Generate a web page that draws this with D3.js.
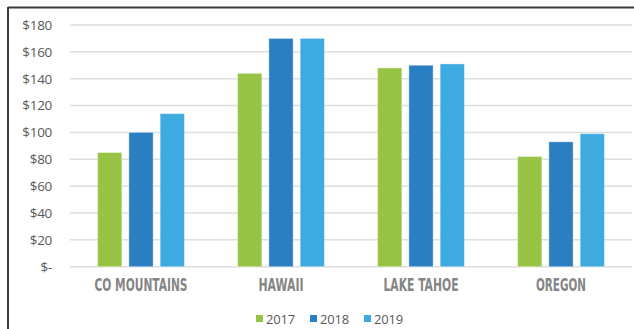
<!DOCTYPE html>
<html>
<head>
<meta charset="utf-8">
<script src="https://cdn.jsdelivr.net/npm/d3@7"></script>
<style>
  html, body { margin: 0; padding: 0; background: #fff; }
  svg { display: block; }
</style>
</head>
<body>
<svg id="chart" width="634" height="329"></svg>
<script>
// Average nightly price by destination, three years
const categories = ["CO MOUNTAINS", "HAWAII", "LAKE TAHOE", "OREGON"];
const years = ["2017", "2018", "2019"];
const values2017 = [85, 144, 148, 82];
const values2018 = [100, 170, 150, 93];
const values2019 = [114, 170, 151, 99];
const yTicks = [0, 20, 40, 60, 80, 100, 120, 140, 160, 180];
const colors = ["#97c444", "#2a7ec2", "#3daae0"];

const seriesValues = [values2017, values2018, values2019];
const rows = categories.map((c, i) => ({
  category: c,
  vals: years.map((y, j) => ({ year: y, value: seriesValues[j][i], color: colors[j] }))
}));

const svg = d3.select("#chart");
const plot = { left: 71, right: 631, top: 25, bottom: 266.7 };

const x0 = d3.scaleBand().domain(categories)
  .range([plot.left, plot.right]).paddingInner(0.38).paddingOuter(0.19);
const x1 = d3.scaleBand().domain(years)
  .range([0, x0.bandwidth()]).paddingInner(0.226).paddingOuter(0);
const y = d3.scaleLinear().domain([0, 180]).range([plot.bottom, plot.top]);

// frame lines (top and left)
svg.append("line").attr("x1", 8).attr("x2", 634).attr("y1", 7.5).attr("y2", 7.5)
  .attr("stroke", "#3a3a3a").attr("stroke-width", 2);
svg.append("line").attr("x1", 8).attr("x2", 8).attr("y1", 7).attr("y2", 329)
  .attr("stroke", "#3a3a3a").attr("stroke-width", 2);

// gridlines
svg.append("g").selectAll("line").data(yTicks).join("line")
  .attr("x1", plot.left - 1).attr("x2", plot.right + 1)
  .attr("y1", d => y(d)).attr("y2", d => y(d))
  .attr("stroke", "#dedede").attr("stroke-width", 1.5);

// y axis labels
const yAxis = d3.axisLeft(y).tickValues(yTicks)
  .tickFormat(d => d === 0 ? "$-" : "$" + d)
  .tickSize(0).tickPadding(0);
const ya = svg.append("g").attr("transform", "translate(52,0)").call(yAxis);
ya.select(".domain").remove();
ya.selectAll("text")
  .attr("font-family", "'Open Sans', 'DejaVu Sans', sans-serif")
  .attr("font-size", 13.5).attr("fill", "#595959").attr("letter-spacing", "-0.3");

// bars
const groups = svg.append("g").selectAll("g").data(rows).join("g")
  .attr("transform", d => `translate(${x0(d.category)},0)`);
groups.selectAll("rect").data(d => d.vals).join("rect")
  .attr("x", d => x1(d.year))
  .attr("width", x1.bandwidth())
  .attr("y", d => y(d.value))
  .attr("height", d => y(0) - y(d.value))
  .attr("fill", d => d.color)
  .attr("stroke", "#ffffff").attr("stroke-opacity", 0.35).attr("stroke-width", 1);

// category labels
const xAxis = d3.axisBottom(x0).tickSize(0).tickPadding(0);
const xa = svg.append("g").attr("transform", "translate(0,291)").call(xAxis);
xa.select(".domain").remove();
xa.selectAll("text")
  .attr("dy", 0)
  .attr("font-family", "'DejaVu Sans', sans-serif")
  .attr("font-weight", "bold")
  .attr("font-stretch", "condensed")
  .attr("font-size", 18)
  .attr("fill", "#858585")
  .each(function (d) {
    const widths = { "CO MOUNTAINS": 93, "HAWAII": 45, "LAKE TAHOE": 75, "OREGON": 50 };
    d3.select(this).attr("textLength", widths[d]).attr("lengthAdjust", "spacingAndGlyphs");
  });

// legend
const legendX = [256, 310, 364];
const legend = svg.append("g").selectAll("g").data(years).join("g")
  .attr("transform", (d, i) => `translate(${legendX[i]},0)`);
legend.append("rect").attr("x", 0).attr("y", 315).attr("width", 7).attr("height", 7)
  .attr("fill", (d, i) => colors[i]);
legend.append("text").attr("x", 10).attr("y", 324)
  .attr("font-family", "'Open Sans', 'DejaVu Sans', sans-serif")
  .attr("font-size", 13).attr("fill", "#595959").attr("letter-spacing", "-0.2")
  .text(d => d);
</script>
</body>
</html>
